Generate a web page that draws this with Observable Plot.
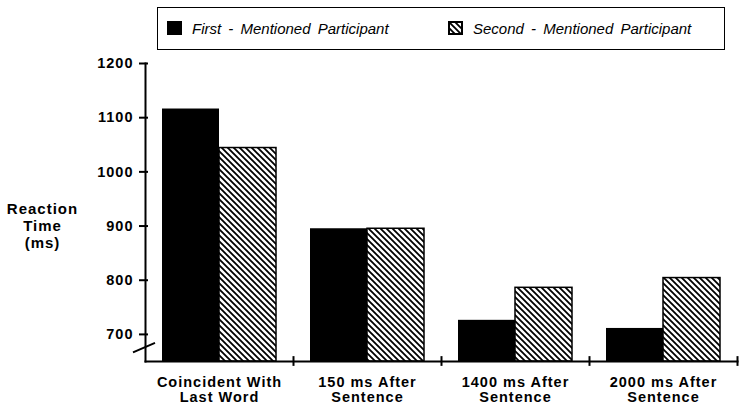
<!DOCTYPE html>
<html><head><meta charset="utf-8">
<script src="https://cdn.jsdelivr.net/npm/d3@7"></script>
<script src="https://cdn.jsdelivr.net/npm/@observablehq/plot@0.6"></script>
<style>
body{margin:0;background:#fff;font-family:"Liberation Sans",Arial,sans-serif;color:#000;}
#head{position:relative;width:745px;height:52px;}
#legend{position:absolute;left:157px;top:7px;width:568px;height:43px;border:1.6px solid #000;box-sizing:border-box;}
.item{position:absolute;top:0;height:40px;display:flex;align-items:center;font-style:italic;font-size:15px;word-spacing:3px;white-space:nowrap;}
.item svg{margin-right:10px;}
#chart text{letter-spacing:1px;}
</style>
</head><body>
<div id="head"><div id="legend"></div></div>
<div id="chart"></div>
<script>
const categories = ["Coincident With\nLast Word", "150 ms After\nSentence", "1400 ms After\nSentence", "2000 ms After\nSentence"];
const series = ["First - Mentioned Participant", "Second - Mentioned Participant"];
const firstMentioned = [1116, 895, 726, 711];
const secondMentioned = [1044, 895, 786, 804];
const yTicks = [700, 800, 900, 1000, 1100, 1200];
const yLabel = "Reaction\nTime\n(ms)";
const yBase = 650;
const yTop = 1200;
const breakValue = 675;

const firstData = categories.map((c, i) => ({category: c, series: series[0], value: firstMentioned[i]}));
const secondData = categories.map((c, i) => ({category: c, series: series[1], value: secondMentioned[i]}));

// Legend
const legend = document.getElementById("legend");
const legendX = [9, 290];
series.forEach((s, i) => {
  const div = document.createElement("div");
  div.className = "item";
  div.style.left = legendX[i] + "px";
  const sw = i === 0
    ? `<svg width="15" height="14"><rect x="0" y="0" width="15" height="14" fill="#000"/></svg>`
    : `<svg width="15" height="14"><defs><pattern id="lh" width="6" height="6" patternUnits="userSpaceOnUse"><rect width="6" height="6" fill="#fff"/><path d="M-1,-1L7,7M-1,5L1,7M5,-1L7,1" stroke="#000" stroke-width="1.8"/></pattern></defs><rect x="1" y="1" width="13" height="12" fill="url(#lh)" stroke="#000" stroke-width="2"/></svg>`;
  div.innerHTML = sw + `<span>${s}</span>`;
  legend.appendChild(div);
});

function axisBreak(index, scales, values, dims) {
  const y = scales.y(breakValue);
  const x = dims.marginLeft;
  const g = document.createElementNS("http://www.w3.org/2000/svg", "g");
  const p = document.createElementNS("http://www.w3.org/2000/svg", "path");
  p.setAttribute("d", `M${x - 12},${y + 5}L${x + 10},${y - 4.5}`);
  p.setAttribute("stroke", "#000");
  p.setAttribute("stroke-width", "2");
  g.appendChild(p);
  return g;
}

const chart = Plot.plot({
  width: 745,
  height: 359,
  marginLeft: 145,
  marginRight: 8,
  marginTop: 11,
  marginBottom: 50,
  style: {fontFamily: "'Liberation Sans', Arial, sans-serif", color: "#000", background: "#fff", overflow: "visible"},
  x: {domain: categories, paddingInner: 0.23, paddingOuter: 0.115, axis: null},
  y: {domain: [yBase, yTop], axis: null},
  marks: [
    Plot.barY(firstData, {x: "category", y1: yBase, y2: "value", fill: "#000", insetRight: 57}),
    Plot.barY(secondData, {x: "category", y1: yBase, y2: "value", fill: "url(#hatch)", stroke: "#000", strokeWidth: 1.5, insetLeft: 57}),
    Plot.frame({anchor: "left", strokeWidth: 2}),
    Plot.frame({anchor: "bottom", strokeWidth: 2}),
    Plot.ruleX(categories, {x: d => d, y1: yBase - 9, y2: yBase + 9, dx: 74, strokeWidth: 2}),
    Plot.axisY({ticks: yTicks, tickFormat: d => String(d), tickSize: 9, dx: 3, tickPadding: 6, fontSize: 14.5, fontWeight: "bold", strokeWidth: 2, label: null}),
    Plot.axisX({tickSize: 0, tickPadding: 14, fontSize: 14.5, fontWeight: "bold", lineHeight: 1.08, label: null}),
    Plot.text([yLabel], {text: d => d, frameAnchor: "left", dx: -103, dy: 13, textAnchor: "middle", lineHeight: 1.15, fontSize: 15, fontWeight: "bold"}),
    axisBreak
  ]
});

const ns = "http://www.w3.org/2000/svg";
const defs = document.createElementNS(ns, "defs");
defs.innerHTML = `<pattern id="hatch" width="6" height="6" patternUnits="userSpaceOnUse"><rect width="6" height="6" fill="#fff"/><path d="M-1,-1L7,7M-1,5L1,7M5,-1L7,1" stroke="#000" stroke-width="1.8"/></pattern>`;
chart.insertBefore(defs, chart.firstChild);
document.getElementById("chart").appendChild(chart);
</script>
</body></html>
